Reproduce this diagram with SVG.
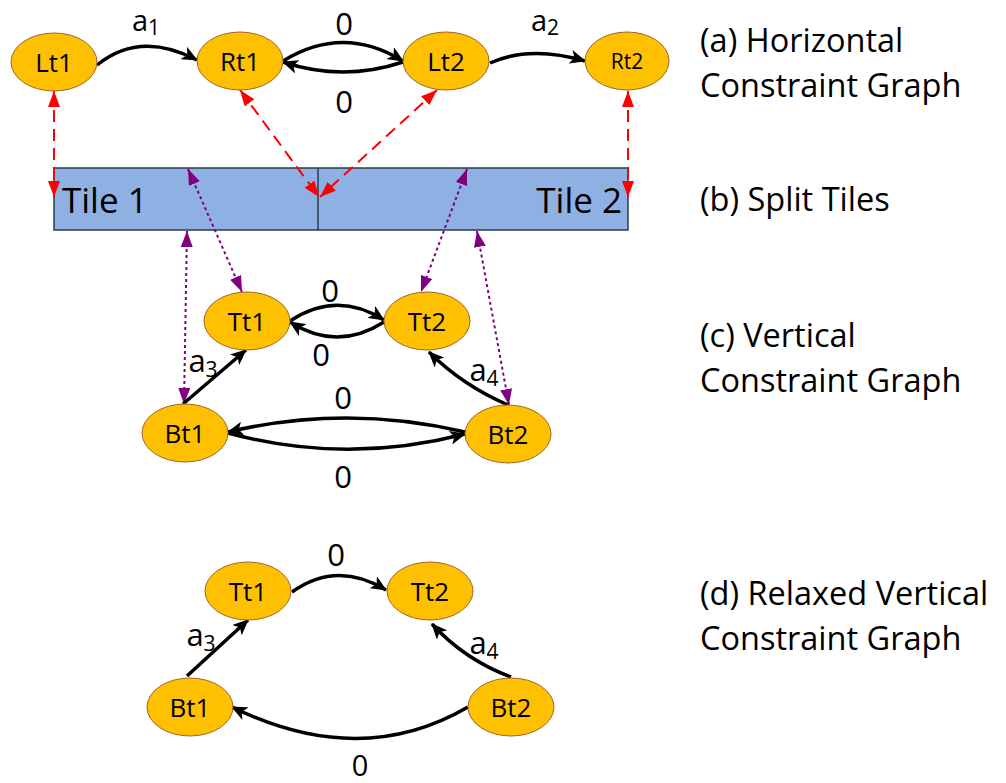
<svg xmlns="http://www.w3.org/2000/svg" width="1006" height="783" viewBox="0 0 1006 783">
  <style>
    .node { fill: #FFC000; stroke: #A0642A; stroke-width: 1; }
    .nlabel { font-family: "Open Sans", "Noto Sans", sans-serif; font-size: 26px; fill: #000; text-anchor: middle; dominant-baseline: central; }
    .elabel { font-family: "Open Sans", "Noto Sans", sans-serif; font-size: 31px; fill: #000; text-anchor: middle; }
    .wlabel { font-family: "Open Sans", "Noto Sans", sans-serif; font-size: 29px; fill: #000; text-anchor: middle; }
    .sub { font-size: 21px; }
    .caption { font-family: "Open Sans", "Noto Sans", sans-serif; font-size: 32.5px; fill: #000; }
    .tile { fill: #8EB0E3; stroke: #2B3A4F; stroke-width: 1.5; }
    .tlabel { font-family: "Open Sans", "Noto Sans", sans-serif; font-size: 35px; fill: #000; }
    .edge { fill: none; stroke: #000; stroke-width: 3.5; marker-end: url(#arrowBlack); }
    .red { fill: none; stroke: #FF0000; stroke-width: 2; stroke-dasharray: 12 7; marker-start: url(#arrowRedStart); marker-end: url(#arrowRed); }
    .purple { fill: none; stroke: #800080; stroke-width: 2; stroke-dasharray: 3 3; marker-start: url(#arrowPurpleStart); marker-end: url(#arrowPurple); }
  </style>
  <defs>
    <marker id="arrowBlack" markerUnits="userSpaceOnUse" viewBox="0 0 16 14" refX="15" refY="7" markerWidth="16" markerHeight="14" orient="auto">
      <path d="M0,0 L16,7 L0,14 L4,7 Z" fill="#000"/>
    </marker>
    <marker id="arrowRed" markerUnits="userSpaceOnUse" viewBox="0 0 16 12" refX="16" refY="6" markerWidth="16" markerHeight="12" orient="auto">
      <path d="M0,0 L16,6 L0,12 Z" fill="#FF0000"/>
    </marker>
    <marker id="arrowRedStart" markerUnits="userSpaceOnUse" viewBox="0 0 16 12" refX="0" refY="6" markerWidth="16" markerHeight="12" orient="auto">
      <path d="M16,0 L0,6 L16,12 Z" fill="#FF0000"/>
    </marker>
    <marker id="arrowPurple" markerUnits="userSpaceOnUse" viewBox="0 0 16 12" refX="16" refY="6" markerWidth="16" markerHeight="12" orient="auto">
      <path d="M0,0 L16,6 L0,12 Z" fill="#800080"/>
    </marker>
    <marker id="arrowPurpleStart" markerUnits="userSpaceOnUse" viewBox="0 0 16 12" refX="0" refY="6" markerWidth="16" markerHeight="12" orient="auto">
      <path d="M16,0 L0,6 L16,12 Z" fill="#800080"/>
    </marker>
  </defs>

  <rect width="1006" height="783" fill="#fff"/>

  <!-- split tiles -->
  <g id="tiles">
    <rect class="tile" x="54" y="168" width="574" height="62"/>
    <line x1="318" y1="168" x2="318" y2="230" stroke="#2B3A4F" stroke-width="1.5"/>
    <text class="tlabel" x="62" y="213">Tile 1</text>
    <text class="tlabel" x="622" y="213" text-anchor="end">Tile 2</text>
  </g>

  <!-- connectors -->
  <g id="connectors">
    <!-- (a) horizontal constraint graph -->
    <path class="edge" d="M97,65 Q140,30 197,60"/>
    <path class="edge" d="M283,61 Q343,24 403,61"/>
    <path class="edge" d="M403,62 Q343,82 283,62"/>
    <path class="edge" d="M490,63 Q530,45 585,61"/>
    <!-- tiles to horizontal graph -->
    <path class="red" d="M54,91 L54,197"/>
    <path class="red" d="M628,91 L628,197"/>
    <path class="red" d="M240,90 L319,197"/>
    <path class="red" d="M437,90 L320,197"/>
    <!-- tiles to vertical graph -->
    <path class="purple" d="M188,169 L242,292"/>
    <path class="purple" d="M187,231 L184,404"/>
    <path class="purple" d="M467,169 L421,292"/>
    <path class="purple" d="M477,231 L509,405"/>
    <!-- (c) vertical constraint graph -->
    <path class="edge" d="M290,321 Q337,290 384,320"/>
    <path class="edge" d="M384,322 Q337,352 290,322"/>
    <path class="edge" d="M183,404 L246,350"/>
    <path class="edge" d="M508,405 Q462,385 429,352"/>
    <path class="edge" d="M465,432 Q346,404 228,432"/>
    <path class="edge" d="M228,433 Q346,465 465,434"/>
    <!-- (d) relaxed vertical constraint graph -->
    <path class="edge" d="M292,592 Q337,560 386,590"/>
    <path class="edge" d="M187,676 L248,620"/>
    <path class="edge" d="M511,677 Q465,660 432,624"/>
    <path class="edge" d="M468,707 Q360,770 232,707"/>
  </g>

  <!-- edge weights -->
  <g id="weights">
    <text class="wlabel" x="146" y="31">a<tspan class="sub" dy="4">1</tspan></text>
    <text class="elabel" x="344" y="35">0</text>
    <text class="elabel" x="344" y="113">0</text>
    <text class="wlabel" x="545" y="31">a<tspan class="sub" dy="4">2</tspan></text>
    <text class="elabel" x="330" y="302">0</text>
    <text class="elabel" x="321" y="366">0</text>
    <text class="elabel" x="203" y="372">a<tspan class="sub" dy="5">3</tspan></text>
    <text class="elabel" x="484" y="381">a<tspan class="sub" dy="5">4</tspan></text>
    <text class="elabel" x="343" y="409">0</text>
    <text class="elabel" x="343" y="488">0</text>
    <text class="elabel" x="336" y="566">0</text>
    <text class="elabel" x="201" y="646">a<tspan class="sub" dy="5">3</tspan></text>
    <text class="elabel" x="484" y="654">a<tspan class="sub" dy="5">4</tspan></text>
    <text class="wlabel" x="360" y="776">0</text>
  </g>

  <!-- (a) nodes -->
  <g id="Lt1"><ellipse class="node" cx="54" cy="62" rx="43" ry="29"/><text class="nlabel" x="54" y="62">Lt1</text></g>
  <g id="Rt1"><ellipse class="node" cx="240" cy="61" rx="43" ry="29"/><text class="nlabel" x="240" y="61">Rt1</text></g>
  <g id="Lt2"><ellipse class="node" cx="446" cy="61" rx="43" ry="29"/><text class="nlabel" x="446" y="61">Lt2</text></g>
  <g id="Rt2"><ellipse class="node" cx="627" cy="61" rx="42" ry="29"/><text class="nlabel" x="627" y="61" style="font-size:21px">Rt2</text></g>

  <!-- (c) nodes -->
  <g id="Tt1c"><ellipse class="node" cx="247" cy="321" rx="43" ry="29"/><text class="nlabel" x="247" y="321">Tt1</text></g>
  <g id="Tt2c"><ellipse class="node" cx="427" cy="321" rx="43" ry="29"/><text class="nlabel" x="427" y="321">Tt2</text></g>
  <g id="Bt1c"><ellipse class="node" cx="185" cy="433" rx="43" ry="29"/><text class="nlabel" x="185" y="433">Bt1</text></g>
  <g id="Bt2c"><ellipse class="node" cx="508" cy="434" rx="43" ry="29"/><text class="nlabel" x="508" y="434">Bt2</text></g>

  <!-- (d) nodes -->
  <g id="Tt1d"><ellipse class="node" cx="248" cy="591" rx="43" ry="29"/><text class="nlabel" x="248" y="591">Tt1</text></g>
  <g id="Tt2d"><ellipse class="node" cx="430" cy="591" rx="43" ry="29"/><text class="nlabel" x="430" y="591">Tt2</text></g>
  <g id="Bt1d"><ellipse class="node" cx="190" cy="707" rx="43" ry="29"/><text class="nlabel" x="190" y="707">Bt1</text></g>
  <g id="Bt2d"><ellipse class="node" cx="511" cy="707" rx="43" ry="29"/><text class="nlabel" x="511" y="707">Bt2</text></g>

  <!-- captions -->
  <g id="captions">
    <text class="caption" x="700" y="52">(a) Horizontal</text>
    <text class="caption" x="700" y="97">Constraint Graph</text>
    <text class="caption" x="700" y="211">(b) Split Tiles</text>
    <text class="caption" x="700" y="347">(c) Vertical</text>
    <text class="caption" x="700" y="392">Constraint Graph</text>
    <text class="caption" x="700" y="605">(d) Relaxed Vertical</text>
    <text class="caption" x="700" y="650">Constraint Graph</text>
  </g>
</svg>
